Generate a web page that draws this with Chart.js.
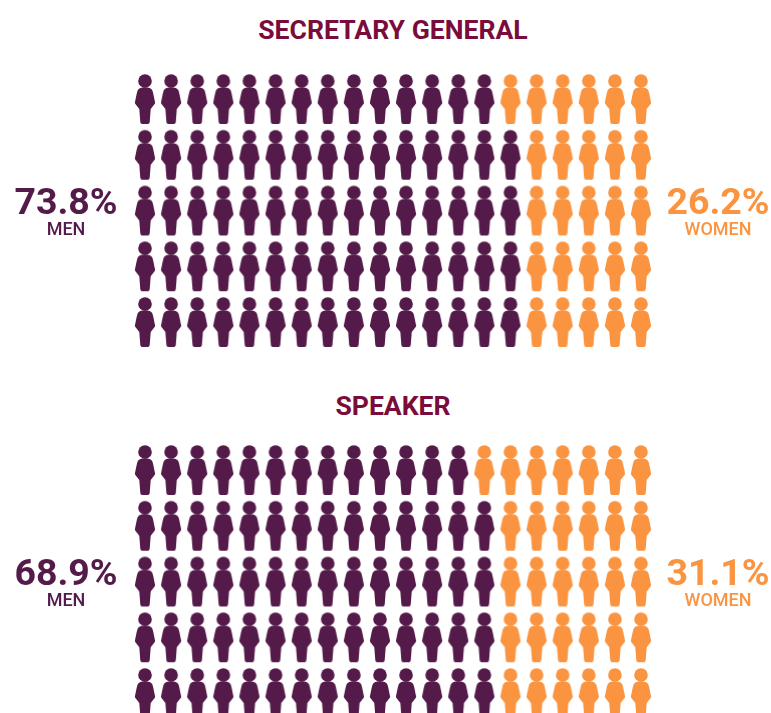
<!DOCTYPE html>
<html>
<head>
<meta charset="utf-8">
<title>Gender split</title>
<script src="https://cdn.jsdelivr.net/npm/chart.js@4/dist/chart.umd.js"></script>
<style>
html, body { margin: 0; padding: 0; width: 771px; height: 713px; overflow: hidden; background: #fff; }
body { position: relative; font-family: Roboto, sans-serif; }
.title, .pct, .who { position: absolute; white-space: nowrap; text-align: center; }
.title { left: 0; width: 786px; font-size: 26.6px; font-weight: 700; color: #7a0c3c; line-height: 30px; }
.pct { width: 120px; font-size: 37.5px; font-weight: 700; line-height: 40px; }
.who { width: 120px; font-size: 18px; font-weight: 500; line-height: 22px; }
.men { color: #541a49; }
.women { color: #fa9441; }
canvas { position: absolute; }
</style>
</head>
<body>
<div class="title" style="top:15px">SECRETARY GENERAL</div>
<canvas id="secretary-chart" style="left:125px;top:69px;width:540px;height:283px"></canvas>
<div class="pct men" style="left:6px;top:181px">73.8%</div>
<div class="who men" style="left:6px;top:218px">MEN</div>
<div class="pct women" style="left:658px;top:181px">26.2%</div>
<div class="who women" style="left:658px;top:218px">WOMEN</div>

<div class="title" style="top:391px">SPEAKER</div>
<canvas id="speaker-chart" style="left:125px;top:440px;width:540px;height:283px"></canvas>
<div class="pct men" style="left:6px;top:552px">68.9%</div>
<div class="who men" style="left:6px;top:589px">MEN</div>
<div class="pct women" style="left:658px;top:552px">31.1%</div>
<div class="who women" style="left:658px;top:589px">WOMEN</div>

<script>
var COLUMNS = 20;
var ROWS = [0, 1, 2, 3, 4];
var secretaryMenPerRow = [14, 15, 15, 15, 15];
var speakerMenPerRow = [13, 14, 14, 14, 14];

var MEN_COLOR = '#541a49';
var WOMEN_COLOR = '#fa9441';

// little person glyph, used as the point style
function makePerson(color) {
  var c = document.createElement('canvas');
  c.width = 24;
  c.height = 52;
  var g = c.getContext('2d');
  g.fillStyle = color;
  g.beginPath();
  g.arc(12, 8, 6.8, 0, Math.PI * 2);
  g.fill();
  g.beginPath();
  g.moveTo(12, 14.2);
  g.bezierCurveTo(15.5, 14.2, 18.4, 15, 19.4, 17.5);
  g.bezierCurveTo(20.4, 20.5, 21.2, 25, 22.1, 29.6);
  g.quadraticCurveTo(22.2, 30.4, 21.6, 31);
  g.lineTo(17.7, 36);
  g.lineTo(16.7, 49);
  g.quadraticCurveTo(16.5, 51, 14.8, 51);
  g.lineTo(9.2, 51);
  g.quadraticCurveTo(7.5, 51, 7.3, 49);
  g.lineTo(6.3, 36);
  g.lineTo(2.4, 31);
  g.quadraticCurveTo(1.8, 30.4, 1.9, 29.6);
  g.bezierCurveTo(2.8, 25, 3.6, 20.5, 4.6, 17.5);
  g.bezierCurveTo(5.6, 15, 8.5, 14.2, 12, 14.2);
  g.closePath();
  g.fill();
  return c;
}

function renderGrid(id, menPerRow) {
  var men = [];
  var women = [];
  ROWS.forEach(function (row) {
    for (var col = 0; col < COLUMNS; col++) {
      (col < menPerRow[row] ? men : women).push({ x: col, y: row });
    }
  });
  var ctx = document.getElementById(id).getContext('2d');
  return new Chart(ctx, {
    type: 'scatter',
    data: {
      datasets: [
        { label: 'Men', data: men, pointStyle: makePerson(MEN_COLOR), clip: false },
        { label: 'Women', data: women, pointStyle: makePerson(WOMEN_COLOR), clip: false },
      ],
    },
    options: {
      responsive: false,
      animation: false,
      layout: { padding: { left: 20, right: 24, top: 30, bottom: 30 } },
      scales: {
        x: { display: false, min: 0, max: COLUMNS - 1 },
        y: { display: false, min: 0, max: ROWS.length - 1, reverse: true },
      },
      plugins: {
        legend: { display: false },
        tooltip: { enabled: false },
      },
    },
  });
}

renderGrid('secretary-chart', secretaryMenPerRow);
renderGrid('speaker-chart', speakerMenPerRow);
</script>
</body>
</html>
